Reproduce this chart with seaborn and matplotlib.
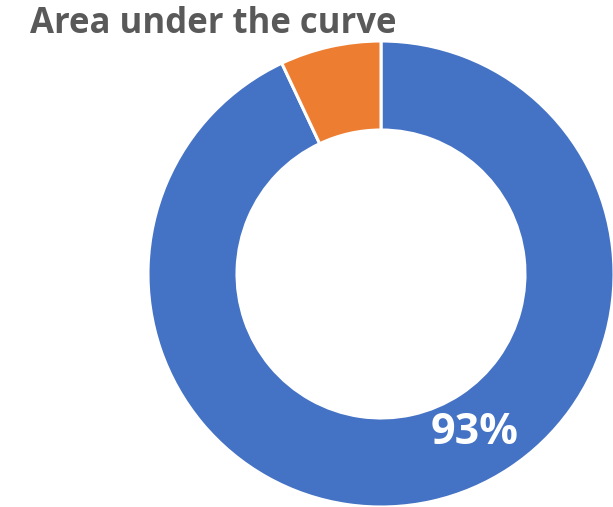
import matplotlib
matplotlib.use("Agg")
import matplotlib.pyplot as plt
import seaborn as sns

# Share of area under the curve
labels = ["Under curve", "Remaining"]
shares = [93, 7]
colors = ["#4472C4", "#ED7D31"]
title = "Area under the curve"

sns.set_theme(style="white")
plt.rcParams["font.family"] = ["Open Sans", "DejaVu Sans"]
palette = sns.color_palette(colors)

fig = plt.figure(figsize=(6.13, 5.07), dpi=100)
ax = fig.add_axes([0, 0, 1, 1])
ax.set_xlim(0, 613)
ax.set_ylim(0, 507)
ax.set_aspect("equal")
ax.axis("off")

wedges, _ = ax.pie(
    shares,
    colors=palette,
    startangle=90,
    counterclock=False,
    center=(381, 233),
    radius=233,
    wedgeprops=dict(width=89, edgecolor="white", linewidth=2.2),
)
ax.set_xlim(0, 613)
ax.set_ylim(0, 507)

ax.text(475, 75, f"{shares[0]}%", color="white", fontsize=31, fontweight="bold",
        ha="center", va="center")

fig.text(30 / 613, 1 - 24 / 507, title, color="#595959", fontsize=25,
         fontweight="bold", ha="left", va="center")

fig.savefig("out.png", dpi=100)
